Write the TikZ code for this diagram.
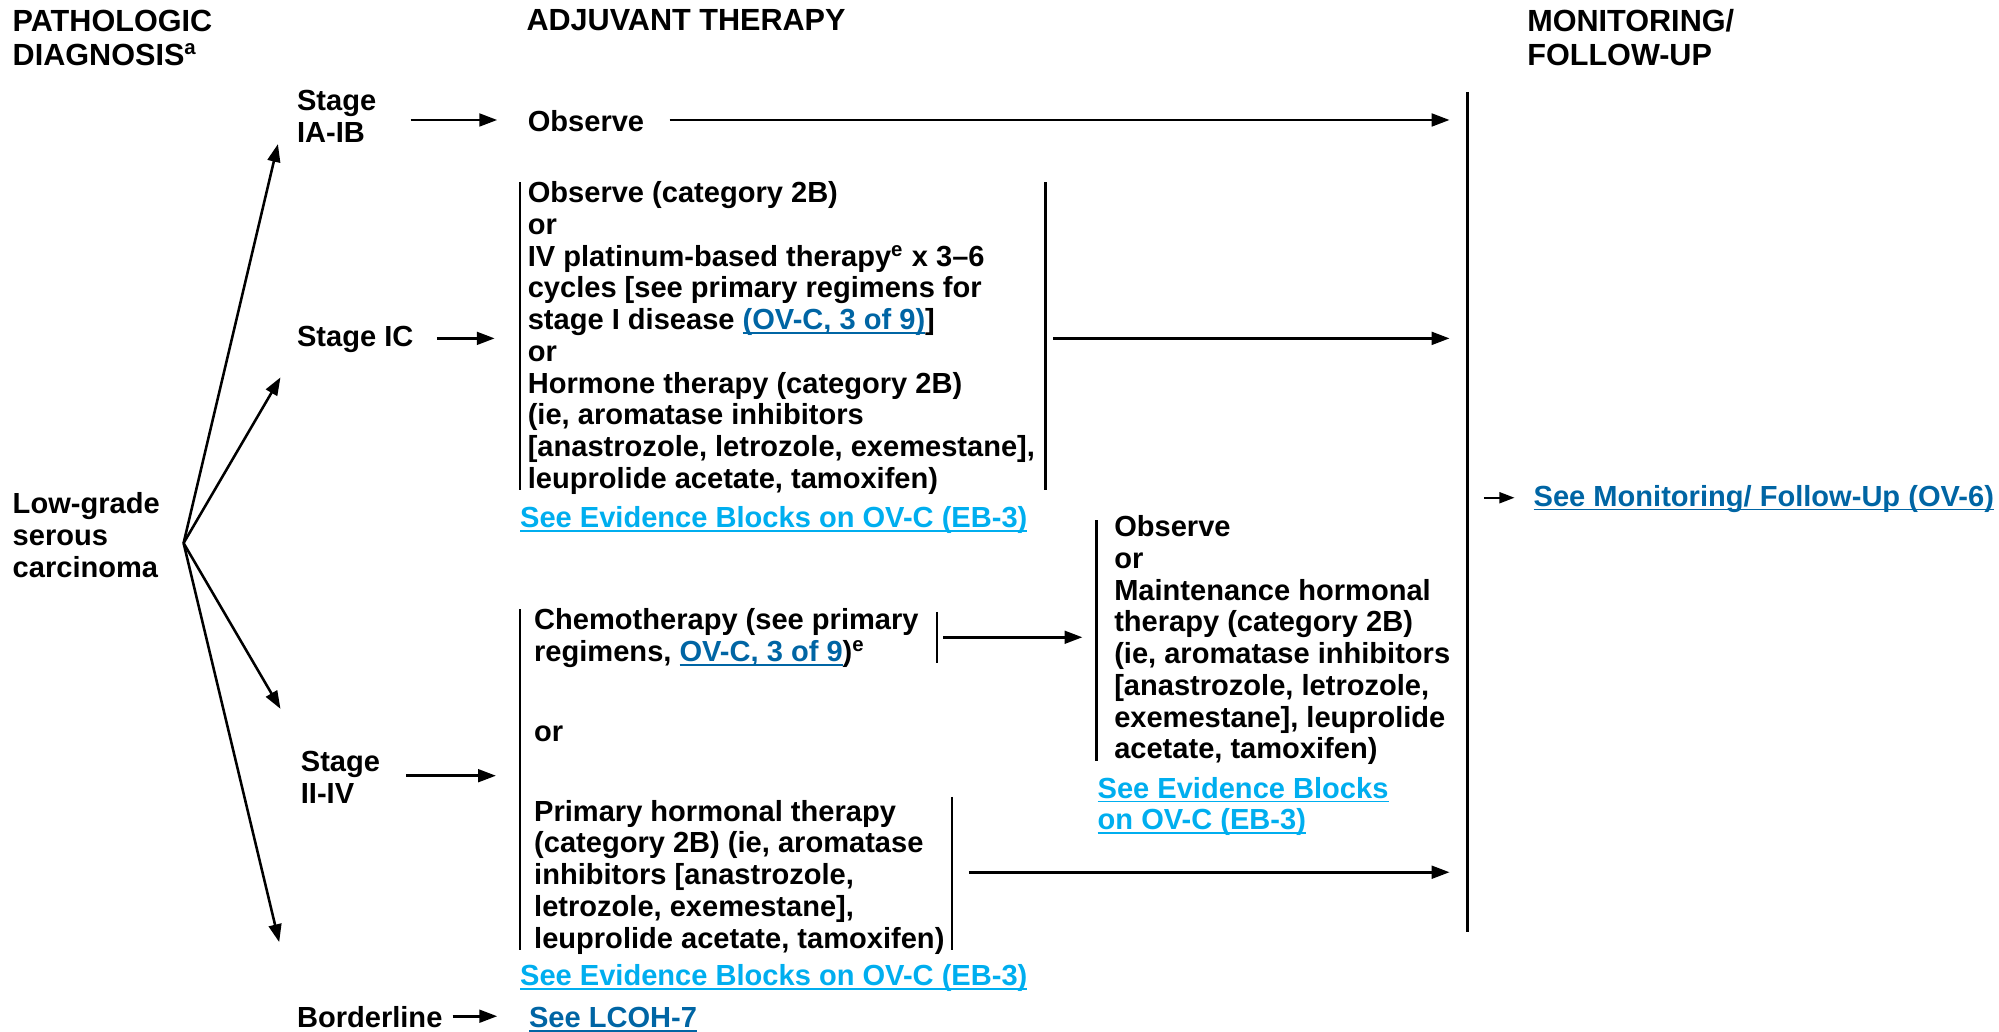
\documentclass[tikz,border=0pt]{standalone}
\usepackage{fontspec}
\setmainfont{Liberation Sans}
\usetikzlibrary{arrows.meta}
\definecolor{lkdark}{RGB}{0,101,164}
\definecolor{lklight}{RGB}{0,174,239}
\newcommand\fs{\fontsize{11.4pt}{12.45pt}\selectfont\bfseries}
\newcommand\fsh{\fontsize{12pt}{13.25pt}\selectfont\bfseries}
\newcommand\fl{\rule{0pt}{9pt}}
\newcommand\lnk[1]{\setbox0=\hbox{#1}\rlap{\rule[-1.6pt]{\wd0}{0.65pt}}\box0}
\tikzset{
  T/.style={anchor=north west, inner sep=0pt, outer sep=0pt, align=left, yshift=9pt, font=\fs},
  H/.style={T, font=\fsh},
  arr/.style={-{Triangle[length=7pt,width=5pt]}, line width=1pt},
  smallarr/.style={-{Triangle[length=6pt,width=4.3pt]}, line width=0.9pt},
  barline/.style={line width=0.9pt},
}
\begin{document}
\begin{tikzpicture}[x=0.5pt,y=-0.5pt]
\useasboundingbox (0,0) rectangle (1568,809);
% headers
\node[H] (hPath) at (10,25) {\fl PATHOLOGIC\\DIAGNOSIS\textsuperscript{a}};
\node[H] (hAdj) at (413,24) {\fl ADJUVANT THERAPY};
\node[H] (hMon) at (1198,25) {\fl MONITORING/\\FOLLOW-UP};
% left
\node[T] (lgsc) at (10,403) {\fl Low-grade\\serous\\carcinoma};
\node[T] (sIA) at (233,87) {\fl Stage\\IA-IB};
\node[T] (sIC) at (233,272) {\fl Stage IC};
\node[T] (sII) at (236,605) {\fl Stage\\II-IV};
\node[T] (bord) at (233,806) {\fl Borderline};
% therapy
\node[T] (obs) at (414,103) {\fl Observe};
\node[T] (icb) at (414,159) {\fl Observe (category 2B)\\or\\IV platinum-based therapy\textsuperscript{e} x 3--6\\cycles [see primary regimens for\\stage I disease {\color{lkdark}\lnk{(OV-C, 3 of 9)}}]\\or\\Hormone therapy (category 2B)\\(ie, aromatase inhibitors\\{}[anastrozole, letrozole, exemestane],\\leuprolide acetate, tamoxifen)};
\node[T, text=lklight] (evIC) at (408,414) {\fl\lnk{See Evidence Blocks on OV-C (EB-3)}};
\node[T] (chemo) at (419,494) {\fl Chemotherapy (see primary\\regimens, {\color{lkdark}\lnk{OV-C, 3 of 9}})\textsuperscript{e}};
\node[T] (orII) at (419,582) {\fl or};
\node[T] (ph) at (419,644) {\fl Primary hormonal therapy\\(category 2B) (ie, aromatase\\inhibitors [anastrozole,\\letrozole, exemestane],\\leuprolide acetate, tamoxifen)};
\node[T, text=lklight] (evII) at (408,773) {\fl\lnk{See Evidence Blocks on OV-C (EB-3)}};
\node[T] (maint) at (874,421) {\fl Observe\\or\\Maintenance hormonal\\therapy (category 2B)\\(ie, aromatase inhibitors\\{}[anastrozole, letrozole,\\exemestane], leuprolide\\acetate, tamoxifen)};
\node[T, text=lklight] (evM) at (861,626) {\fl\lnk{See Evidence Blocks}\\\lnk{on OV-C (EB-3)}};
\node[T, text=lkdark, font=\fontsize{11.4pt}{12.45pt}\selectfont\bfseries] (mlink) at (1203,397) {\fl\lnk{See Monitoring/ Follow-Up (OV-6)}};
\node[T, text=lkdark] (lcoh) at (415,806) {\fl\lnk{See LCOH-7}};
% bars
\coordinate (monT) at (1151,72); \coordinate (monB) at (1151,731);
\coordinate (icLT) at (408,143); \coordinate (icLB) at (408,384);
\coordinate (icRT) at (820,143); \coordinate (icRB) at (820,384);
\coordinate (iiLT) at (408,478); \coordinate (iiLB) at (408,745);
\coordinate (chRT) at (735,480); \coordinate (chRB) at (735,520);
\coordinate (phRT) at (747,625); \coordinate (phRB) at (747,745);
\coordinate (mnLT) at (860,408); \coordinate (mnLB) at (860,597);
\draw[barline] (monT) -- (monB);
\draw[barline] (icLT) -- (icLB);
\draw[barline] (icRT) -- (icRB);
\draw[barline] (iiLT) -- (iiLB);
\draw[barline] (chRT) -- (chRB);
\draw[barline] (phRT) -- (phRB);
\draw[barline] (mnLT) -- (mnLB);
% fan
\coordinate (fan) at (144,426);
\coordinate (tIA) at (218,113);
\coordinate (tIC) at (220,296);
\coordinate (tII) at (220,556);
\coordinate (tBL) at (219,739);
\draw[arr] (fan) -- (tIA);
\draw[arr] (fan) -- (tIC);
\draw[arr] (fan) -- (tII);
\draw[arr] (fan) -- (tBL);
% arrows
\draw[arr, shorten <=13.5pt, shorten >=12pt] (sIA.east |- obs.west) -- (obs.west);
\draw[arr, shorten <=10pt, shorten >=7pt] (obs.east) -- (obs.east -| monT);
\draw[arr, shorten <=9.25pt, shorten >=13pt] (sIC.east) -- (sIC.east -| icb.west);
\draw[arr, shorten <=3pt, shorten >=7pt] (sIC.east -| icRT) -- (sIC.east -| monT);
\draw[arr, shorten <=10.25pt, shorten >=15pt] (sII.east) -- (sII.east -| ph.west);
\draw[arr, shorten <=2.5pt, shorten >=12.5pt] (chemo.east -| chRT) -- (chemo.east -| maint.west);
\draw[arr, shorten <=6.5pt, shorten >=7pt] ([yshift=1.5pt]ph.east -| phRT) -- ([yshift=1.5pt]ph.east -| monT);
\draw[smallarr, shorten <=6.5pt, shorten >=7.5pt] (mlink.west -| monT) -- (mlink.west);
\draw[arr, shorten <=4pt, shorten >=12.5pt] (bord.east) -- (bord.east -| lcoh.west);
\end{tikzpicture}
\end{document}
